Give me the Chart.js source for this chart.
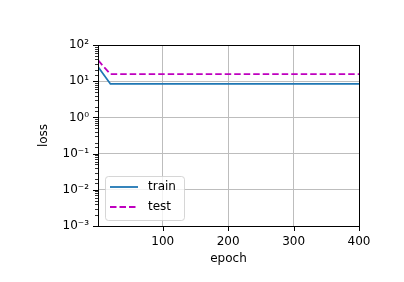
<!DOCTYPE html>
<html>
<head>
<meta charset="utf-8">
<script src="https://cdn.jsdelivr.net/npm/chart.js@4"></script>
<style>
  html, body { margin: 0; padding: 0; background: #fff; }
  canvas { display: block; }
</style>
</head>
<body>
<canvas id="myChart" width="404" height="282"></canvas>
<script>
// data: one point every 20 epochs
var epochs = [1, 20, 40, 60, 80, 100, 120, 140, 160, 180, 200, 220, 240, 260, 280, 300, 320, 340, 360, 380, 400];
var trainLoss = [25, 8.4, 8.4, 8.4, 8.4, 8.4, 8.4, 8.4, 8.4, 8.4, 8.4, 8.4, 8.4, 8.4, 8.4, 8.4, 8.4, 8.4, 8.4, 8.4, 8.4];
var testLoss = [38, 15.6, 15.6, 15.6, 15.6, 15.6, 15.6, 15.6, 15.6, 15.6, 15.6, 15.6, 15.6, 15.6, 15.6, 15.6, 15.6, 15.6, 15.6, 15.6, 15.6];

var xTicks = [100, 200, 300, 400];
var yTickValues = [1e-3, 1e-2, 1e-1, 1e0, 1e1, 1e2];
var yTickLabels = ['10⁻³', '10⁻²', '10⁻¹', '10⁰', '10¹', '10²'];

var FONT = 'DejaVu Sans';
var GRID = '#bdbdbd';

function isPow10(v) {
    var e = Math.log10(v);
    return Math.abs(e - Math.round(e)) < 1e-9;
}

function toPoints(ys) {
    return epochs.map(function (e, i) { return { x: e, y: ys[i] }; });
}

// ticks, frame and legend drawn like matplotlib
var mplExtras = {
    id: 'mplExtras',
    afterDraw: function (chart) {
        var c = chart.ctx, a = chart.chartArea;
        var xs = chart.scales.x, ys = chart.scales.y;
        c.save();
        c.strokeStyle = '#000';
        c.lineWidth = 1;
        // x ticks
        xs.ticks.forEach(function (t) {
            var px = Math.round(xs.getPixelForValue(t.value)) + 0.5;
            c.beginPath(); c.moveTo(px, a.bottom); c.lineTo(px, a.bottom + 5); c.stroke();
        });
        // y ticks (major + minor)
        ys.ticks.forEach(function (t) {
            if (t.value < ys.min || t.value > ys.max) return;
            var py = Math.round(ys.getPixelForValue(t.value)) + 0.5;
            var len = isPow10(t.value) ? 5 : 3;
            c.lineWidth = isPow10(t.value) ? 1 : 0.8;
            c.beginPath(); c.moveTo(a.left - len, py); c.lineTo(a.left, py); c.stroke();
        });
        // frame
        c.lineWidth = 1;
        c.strokeRect(Math.round(a.left) + 0.5, Math.round(a.top) + 0.5,
            Math.round(a.right - a.left), Math.round(a.bottom - a.top));

        // legend, lower left inside the axes
        var bx = a.left + 7, by = a.bottom - 50, bw = 79, bh = 44;
        c.beginPath();
        c.roundRect(bx + 0.5, by + 0.5, bw, bh, 3);
        c.fillStyle = 'rgba(255,255,255,0.8)';
        c.fill();
        c.strokeStyle = 'rgba(204,204,204,0.8)';
        c.lineWidth = 1;
        c.stroke();
        c.font = '12px "' + FONT + '"';
        c.textBaseline = 'middle';
        c.textAlign = 'left';
        chart.data.datasets.forEach(function (ds, i) {
            var ly = by + 11 + i * 20;
            c.strokeStyle = ds.borderColor;
            c.lineWidth = ds.borderWidth;
            c.setLineDash(ds.borderDash || []);
            c.beginPath(); c.moveTo(bx + 5, ly); c.lineTo(bx + 33, ly); c.stroke();
            c.setLineDash([]);
            c.fillStyle = '#000';
            c.fillText(ds.label, bx + 43, ly);
        });
        c.restore();
    }
};

var ctx = document.getElementById('myChart').getContext('2d');

var chart = new Chart(ctx, {
    type: 'line',
    data: {
        datasets: [{
            label: 'train',
            data: toPoints(trainLoss),
            borderColor: '#1f77b4',
            borderWidth: 1.8,
            pointRadius: 0,
            tension: 0
        }, {
            label: 'test',
            data: toPoints(testLoss),
            borderColor: '#bf00bf',
            borderWidth: 1.8,
            borderDash: [6.5, 3],
            pointRadius: 0,
            tension: 0
        }]
    },
    options: {
        responsive: false,
        animation: false,
        events: [],
        layout: { padding: { left: 0, right: 45, top: 45, bottom: 0 } },
        plugins: { legend: { display: false }, tooltip: { enabled: false } },
        scales: {
            x: {
                type: 'linear',
                min: 1,
                max: 400,
                afterBuildTicks: function (scale) {
                    scale.ticks = xTicks.map(function (v) { return { value: v }; });
                },
                afterFit: function (scale) { scale.height = 56; },
                grid: { color: GRID, lineWidth: 1, tickLength: 0, drawTicks: false },
                border: { display: false },
                ticks: {
                    color: '#000',
                    font: { family: FONT, size: 12 },
                    padding: 9,
                    maxRotation: 0,
                    autoSkip: false
                },
                title: {
                    display: true,
                    text: 'epoch',
                    color: '#000',
                    font: { family: FONT, size: 12 },
                    padding: { top: 0, bottom: 16 }
                }
            },
            y: {
                type: 'logarithmic',
                min: 1e-3,
                max: 1e2,
                afterFit: function (scale) { scale.width = 98; },
                grid: {
                    color: function (c) {
                        return c.tick && isPow10(c.tick.value) ? GRID : 'rgba(0,0,0,0)';
                    },
                    lineWidth: 1,
                    drawTicks: false,
                    tickLength: 0
                },
                border: { display: false },
                ticks: {
                    color: '#000',
                    font: { family: FONT, size: 12 },
                    padding: 9,
                    autoSkip: false,
                    callback: function (v) {
                        var i = yTickValues.findIndex(function (t) { return Math.abs(Math.log10(t) - Math.log10(v)) < 1e-9; });
                        return i >= 0 ? yTickLabels[i] : '';
                    }
                },
                title: {
                    display: true,
                    text: 'loss',
                    color: '#000',
                    font: { family: FONT, size: 12 },
                    padding: { top: 37, bottom: 0 }
                }
            }
        }
    },
    plugins: [mplExtras]
});
</script>
</body>
</html>
